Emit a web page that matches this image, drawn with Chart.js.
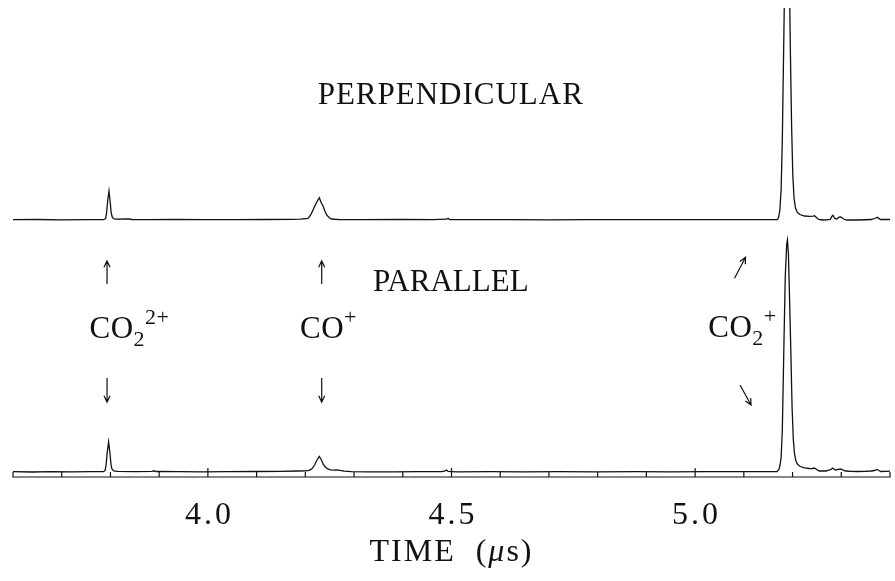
<!DOCTYPE html>
<html>
<head>
<meta charset="utf-8">
<script src="https://cdn.jsdelivr.net/npm/chart.js@4"></script>
<style>
  body { margin: 0; background: #fff; }
  canvas { display: block; }
</style>
</head>
<body>
<canvas id="tof" width="895" height="581"></canvas>
<script>
// time-of-flight spectra, time in microseconds
const parTime = [3.600, 3.640, 3.680, 3.720, 3.760, 3.785, 3.789, 3.791, 3.7935, 3.7962, 3.799, 3.801, 3.803, 3.807, 3.815, 3.850, 3.885, 3.889, 3.893, 3.940, 3.990,
  4.040, 4.100, 4.150, 4.185, 4.200, 4.208, 4.214, 4.219, 4.224, 4.2287, 4.2325, 4.2365, 4.241, 4.246, 4.252, 4.259, 4.265, 4.271, 4.280, 4.295, 4.330, 4.380, 4.430,
  4.480, 4.487, 4.490, 4.493, 4.510, 4.580, 4.650, 4.720, 4.800, 4.880, 4.950, 5.020, 5.090, 5.150, 5.168, 5.1715, 5.174, 5.1765, 5.179, 5.182, 5.185, 5.188, 5.1895,
  5.1915, 5.194, 5.1965, 5.199, 5.2015, 5.204, 5.207, 5.2105, 5.216, 5.225, 5.234, 5.240, 5.2445, 5.248, 5.2515, 5.255, 5.268, 5.275, 5.280, 5.282, 5.2855, 5.289,
  5.2935, 5.299, 5.304, 5.309, 5.320, 5.333, 5.348, 5.361, 5.368, 5.3735, 5.378, 5.381, 5.390, 5.400];
const parValue = [0.3, 0, 0.4, 0.2, 0.3, 0.3, 1.5, 7, 20, 30, 19, 8, 3, 1, 0.6, 0.4, 0.6, 1.2, 0.5, 0.3, 0.2,
  0.4, 0.5, 0.6, 1.0, 1.2, 1.6, 3.5, 7, 12, 15.5, 12.5, 8, 5, 3, 2.2, 1.8, 2.1, 1.6, 0.9, 0.4, 0.2, 0.2, 0.3,
  0.4, 1.2, 2, 0.6, 0.2, 0.3, 0.2, 0.3, 0.2, 0.3, 0.2, 0.3, 0.3, 0.4, 0.5, 2, 6, 14, 42, 120, 195, 228, 232,
  218, 170, 120, 65, 33, 18, 11, 7.5, 5.5, 4.2, 3.5, 3.4, 4, 3, 1.8, 1, 1, 1.8, 3, 4, 2.8, 2,
  2.6, 3, 1.8, 1, 0.6, 0.5, 0.6, 1, 1.5, 2.5, 1.2, 0.5, 0.6, 0.8];

const perpTime = [3.600, 3.650, 3.700, 3.750, 3.786, 3.790, 3.792, 3.7945, 3.7970, 3.7995, 3.8015, 3.804, 3.809, 3.837, 3.845, 3.880, 3.930, 3.990,
  4.060, 4.120, 4.170, 4.190, 4.2055, 4.211, 4.2164, 4.2225, 4.2287, 4.2330, 4.2369, 4.2405, 4.2439, 4.2490, 4.2540, 4.270, 4.320, 4.400, 4.460,
  4.490, 4.493, 4.496, 4.540, 4.620, 4.700, 4.780, 4.860, 4.940, 5.020, 5.100, 5.150, 5.169, 5.1715, 5.174, 5.1765, 5.179, 5.182, 5.185, 5.188,
  5.1905, 5.193, 5.1955, 5.198, 5.2005, 5.203, 5.206, 5.2095, 5.215, 5.2245, 5.235, 5.2425, 5.245, 5.249, 5.2535, 5.262, 5.270, 5.2775, 5.2805,
  5.2830, 5.2865, 5.2905, 5.2955, 5.299, 5.305, 5.3105, 5.335, 5.3615, 5.3685, 5.3745, 5.380, 5.3905, 5.400];
const perpValue = [0.3, 0.5, 0.2, 0.4, 0.3, 1.5, 7, 20, 29, 18, 7, 2.5, 0.8, 1, 0.5, 0.3, 0.5, 0.3,
  0.4, 0.5, 0.6, 0.8, 1.7, 5, 10.7, 17, 22.3, 17, 13.3, 8.5, 5, 2.2, 1, 0.4, 0.3, 0.5, 0.3,
  0.8, 1.8, 0.5, 0.3, 0.4, 0.2, 0.4, 0.3, 0.4, 0.3, 0.3, 0.3, 0.3, 3, 10, 30, 80, 180, 280, 330,
  320, 260, 170, 95, 45, 22, 12, 8, 5.5, 4, 3.6, 3.9, 4.3, 2.5, 0.5, 0, 0.2, 0.5, 3.5,
  4.7, 1.5, 1, 2.8, 3, 1, 0, 0, 0.5, 1.5, 2.7, 0.5, 0.5, 0.5];

const perpOffset = 252; // perpendicular trace is drawn above the parallel one

const tickValues = [4.0, 4.5, 5.0];
const tickLabels = ['4.0', '4.5', '5.0'];
const minorTicks = [3.7, 3.8, 3.9, 4.0, 4.1, 4.2, 4.3, 4.4, 4.5, 4.6, 4.7, 4.8, 4.9, 5.0, 5.1, 5.2, 5.3];

const SERIF = '"Liberation Serif", "Times New Roman", serif';
const INK = '#111';

// text labels, placed in data coordinates
const labels = [
  { x: 4.4985, y: 368, parts: [{ t: 'PERPENDICULAR' }], align: 'center', gap: 1 },
  { x: 4.4985, y: 181, parts: [{ t: 'PARALLEL' }], align: 'center', gap: 0 },
  { x: 3.757, y: 134, parts: [{ t: 'CO' }, { t: '2', sub: true }, { t: '2+', sup: true }], gap: 0.5 },
  { x: 4.189, y: 134, parts: [{ t: 'CO' }, { t: '+', sup: true }], gap: 0.5 },
  { x: 5.027, y: 135, parts: [{ t: 'CO' }, { t: '2', sub: true }, { t: '+', sup: true }], gap: 0.5 }
];
const arrows = [
  { x1: 3.793, y1: 188, x2: 3.793, y2: 211 },
  { x1: 3.793, y1: 94, x2: 3.793, y2: 70 },
  { x1: 4.2336, y1: 188, x2: 4.2336, y2: 211 },
  { x1: 4.2336, y1: 94, x2: 4.2336, y2: 70 },
  { x1: 5.0809, y1: 193.7, x2: 5.1035, y2: 214.7 },
  { x1: 5.0922, y1: 87, x2: 5.1148, y2: 67 }
];

function pts(xs, ys, off) {
  return xs.map((x, i) => ({ x: x, y: ys[i] + off }));
}

const decor = {
  id: 'decor',
  afterDatasetsDraw(chart) {
    const ctx = chart.ctx;
    const xs = chart.scales.x, ys = chart.scales.y;
    const x0 = xs.getPixelForValue(3.6), x1 = xs.getPixelForValue(5.4);
    const yb = ys.getPixelForValue(-5), yt = ys.getPixelForValue(0);
    ctx.save();
    ctx.strokeStyle = INK;
    ctx.fillStyle = INK;
    ctx.lineWidth = 1.2;
    // axis box
    ctx.beginPath();
    ctx.moveTo(x0, yt); ctx.lineTo(x0, yb); ctx.lineTo(x1, yb); ctx.lineTo(x1, yt);
    ctx.stroke();
    // ticks
    minorTicks.forEach(v => {
      const px = xs.getPixelForValue(v);
      const major = tickValues.some(t => Math.abs(t - v) < 1e-6);
      ctx.beginPath();
      ctx.moveTo(px, yb);
      ctx.lineTo(px, major ? yb - 9 : yb - 5);
      ctx.stroke();
    });
    // tick labels
    ctx.font = '32px ' + SERIF;
    ctx.letterSpacing = '3px';
    ctx.textAlign = 'center';
    ctx.textBaseline = 'alphabetic';
    tickValues.forEach((v, i) => {
      ctx.fillText(tickLabels[i], xs.getPixelForValue(v) + 1.5, 524);
    });
    // axis title  TIME (μs)
    const title = [{ t: 'TIME  (' }, { t: 'μ', it: true }, { t: 's)' }];
    drawParts(ctx, title, xs.getPixelForValue(4.5), 561, 'center', 32, 2);
    // labels
    labels.forEach(l => {
      drawParts(ctx, l.parts, xs.getPixelForValue(l.x), ys.getPixelForValue(l.y), l.align || 'left', 31, l.gap);
    });
    // arrows
    ctx.lineWidth = 1.2;
    arrows.forEach(a => {
      const ax = xs.getPixelForValue(a.x1), ay = ys.getPixelForValue(a.y1);
      const bx = xs.getPixelForValue(a.x2), by = ys.getPixelForValue(a.y2);
      const ang = Math.atan2(by - ay, bx - ax);
      ctx.beginPath();
      ctx.moveTo(ax, ay); ctx.lineTo(bx, by);
      ctx.moveTo(bx - 7 * Math.cos(ang - 0.45), by - 7 * Math.sin(ang - 0.45));
      ctx.lineTo(bx, by);
      ctx.lineTo(bx - 7 * Math.cos(ang + 0.45), by - 7 * Math.sin(ang + 0.45));
      ctx.stroke();
    });
    ctx.restore();
  }
};

function drawParts(ctx, parts, x, y, align, size, gap) {
  ctx.textAlign = 'left';
  ctx.textBaseline = 'alphabetic';
  ctx.letterSpacing = gap + 'px';
  const fontOf = p => (p.it ? 'italic ' : '') + ((p.sub || p.sup) ? Math.round(size * 0.7) : size) + 'px ' + SERIF;
  let w = 0;
  parts.forEach(p => { ctx.font = fontOf(p); w += ctx.measureText(p.t).width; });
  let cx = align === 'center' ? x - w / 2 : x;
  parts.forEach(p => {
    ctx.font = fontOf(p);
    const dy = p.sub ? 8 : (p.sup ? -14 : 0);
    ctx.fillText(p.t, cx, y + dy);
    cx += ctx.measureText(p.t).width;
  });
}

new Chart(document.getElementById('tof').getContext('2d'), {
  type: 'line',
  data: {
    datasets: [
      { label: 'Perpendicular', data: pts(perpTime, perpValue, perpOffset) },
      { label: 'Parallel', data: pts(parTime, parValue, 0) }
    ]
  },
  options: {
    responsive: false,
    animation: false,
    layout: { padding: { left: 13, right: 5, top: 8, bottom: 104 } },
    elements: {
      line: { borderColor: INK, borderWidth: 1.3, tension: 0 },
      point: { radius: 0 }
    },
    scales: {
      x: { type: 'linear', min: 3.6, max: 5.4, display: false },
      y: { min: -5, max: 464, display: false }
    },
    plugins: { legend: { display: false }, tooltip: { enabled: false } }
  },
  plugins: [decor]
});
</script>
</body>
</html>
